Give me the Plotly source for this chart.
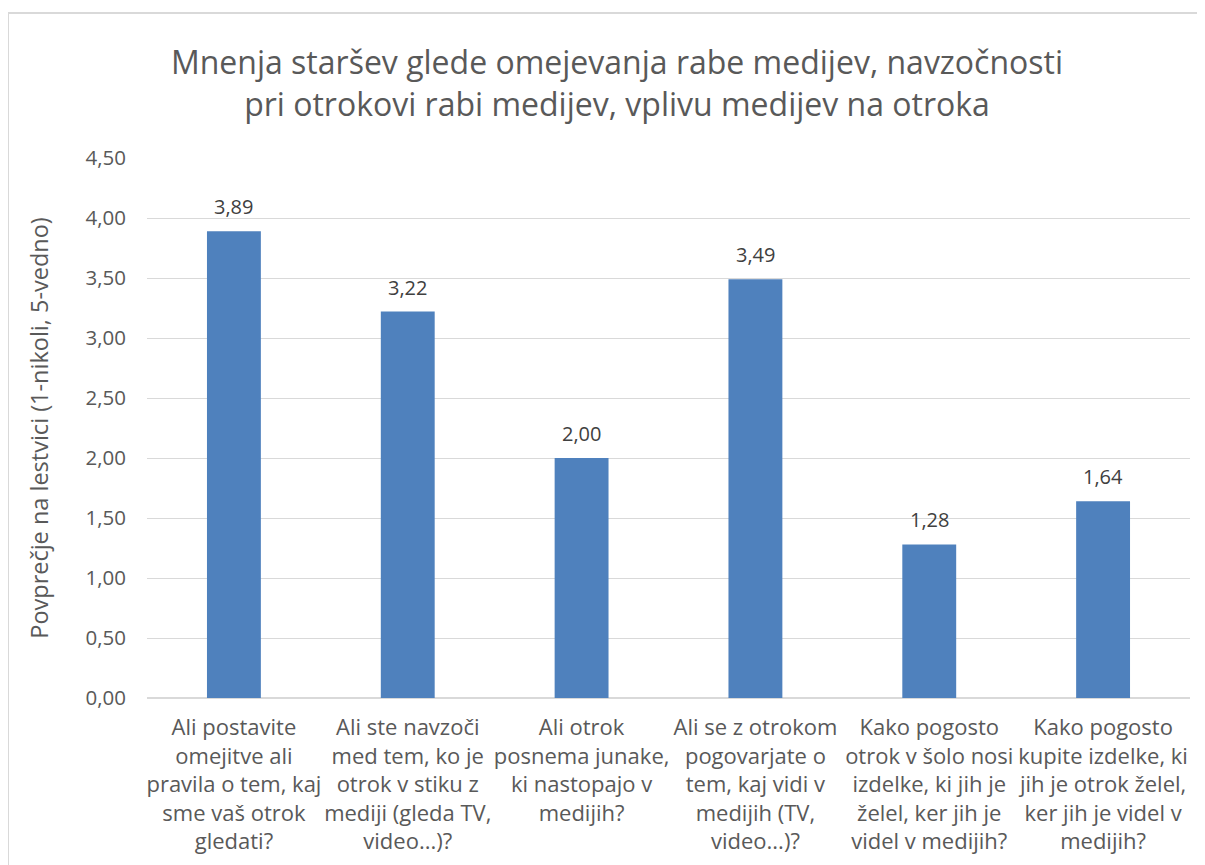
import plotly.graph_objects as go

categories = [
    "Ali postavite<br>omejitve ali<br>pravila o tem, kaj<br>sme vaš otrok<br>gledati?",
    "Ali ste navzoči<br>med tem, ko je<br>otrok v stiku z<br>mediji (gleda TV,<br>video...)?",
    "Ali otrok<br>posnema junake,<br>ki nastopajo v<br>medijih?",
    "Ali se z otrokom<br>pogovarjate o<br>tem, kaj vidi v<br>medijih (TV,<br>video...)?",
    "Kako pogosto<br>otrok v šolo nosi<br>izdelke, ki jih je<br>želel, ker jih je<br>videl v medijih?",
    "Kako pogosto<br>kupite izdelke, ki<br>jih je otrok želel,<br>ker jih je videl v<br>medijih?",
]
values = [3.89, 3.22, 2.00, 3.49, 1.28, 1.64]
y_ticks = [0, 0.5, 1.0, 1.5, 2.0, 2.5, 3.0, 3.5, 4.0, 4.5]

font_family = "Open Sans"
grey = "#595959"

fig = go.Figure(
    go.Bar(
        x=categories,
        y=values,
        width=0.31,
        marker=dict(color="#4f81bd", line=dict(width=0)),
    )
)

# value labels above the bars
for cat, val in zip(categories, values):
    fig.add_annotation(
        x=cat,
        y=val,
        text=f"{val:.2f}".replace(".", ","),
        showarrow=False,
        yanchor="bottom",
        yshift=9,
        font=dict(size=20, color="#404040", family=font_family),
    )

fig.update_layout(
    width=1205,
    height=865,
    separators=",.",
    paper_bgcolor="white",
    plot_bgcolor="white",
    margin=dict(l=139, r=23, t=150, b=175),
    font=dict(family=font_family, color=grey),
    title=dict(
        text="Mnenja staršev glede omejevanja rabe medijev, navzočnosti<br>pri otrokovi rabi medijev, vplivu medijev na otroka",
        x=609 / 1205,
        xanchor="center",
        y=1 - 66 / 865,
        yanchor="middle",
        font=dict(size=32, color=grey, family=font_family),
    ),
    xaxis=dict(
        tickfont=dict(size=22, color=grey),
        showgrid=False,
        showline=False,
        ticks="",
        ticklabelstandoff=14,
    ),
    yaxis=dict(
        range=[0, 4.5],
        tickvals=y_ticks,
        tickformat=".2f",
        tickfont=dict(size=20.5, color=grey),
        gridcolor="#d9d9d9",
        gridwidth=1,
        zeroline=True,
        zerolinecolor="#d9d9d9",
        showline=False,
        ticks="",
        ticklabelstandoff=20,
        title=dict(
            text="Povprečje na lestvici (1-nikoli, 5-vedno)",
            font=dict(size=23.5, color=grey),
            standoff=30,
        ),
    ),
    shapes=[
        dict(
            type="rect",
            xref="paper",
            yref="paper",
            x0=-139 / 1043,
            x1=1.2,
            y0=-0.5,
            y1=1 + 145 / 540,
            line=dict(color="#d9d9d9", width=2),
            fillcolor="rgba(0,0,0,0)",
            layer="below",
        )
    ],
    showlegend=False,
)

fig.write_html("out.html")
